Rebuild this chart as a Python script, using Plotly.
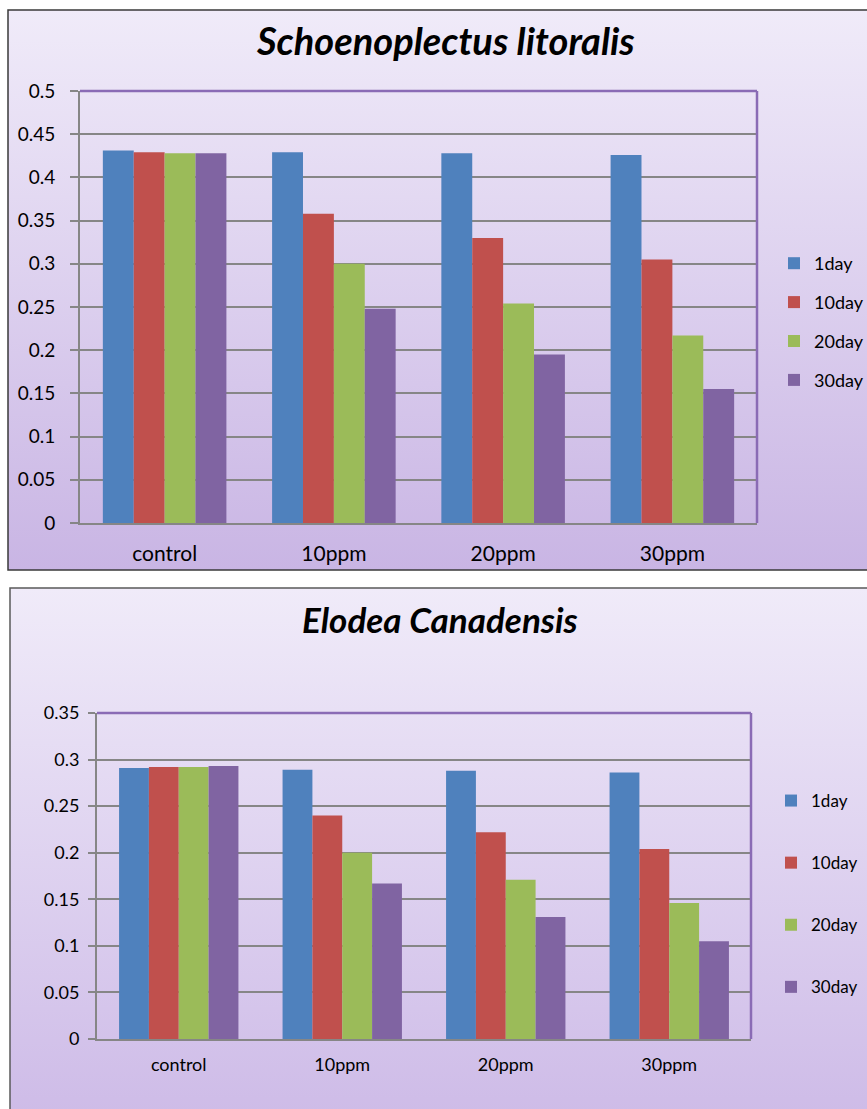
import base64
import plotly.graph_objects as go

categories = ["control", "10ppm", "20ppm", "30ppm"]
series_names = ["1day", "10day", "20day", "30day"]

schoeno_1day = [0.431, 0.429, 0.428, 0.426]
schoeno_10day = [0.429, 0.358, 0.330, 0.305]
schoeno_20day = [0.428, 0.300, 0.254, 0.217]
schoeno_30day = [0.428, 0.248, 0.195, 0.155]

elodea_1day = [0.291, 0.289, 0.288, 0.286]
elodea_10day = [0.292, 0.240, 0.222, 0.204]
elodea_20day = [0.292, 0.200, 0.171, 0.146]
elodea_30day = [0.293, 0.167, 0.131, 0.105]

title1 = "Schoenoplectus litoralis"
title2 = "Elodea Canadensis"

colors = ["#4F81BD", "#C0504D", "#9BBB59", "#8064A2"]

W, H = 867, 1109
FONT = "Lato"


def px_x(v):
    return v / W


def px_y(v):
    return 1 - v / H


def gradient_uri(top, bottom):
    svg = (
        '<svg xmlns="http://www.w3.org/2000/svg" width="100" height="100" preserveAspectRatio="none">'
        '<defs><linearGradient id="g" x1="0" y1="0" x2="0" y2="1">'
        f'<stop offset="0" stop-color="{top}"/><stop offset="1" stop-color="{bottom}"/>'
        '</linearGradient></defs><rect width="100" height="100" fill="url(#g)"/></svg>'
    )
    return "data:image/svg+xml;base64," + base64.b64encode(svg.encode()).decode()


fig = go.Figure()

s1 = [schoeno_1day, schoeno_10day, schoeno_20day, schoeno_30day]
s2 = [elodea_1day, elodea_10day, elodea_20day, elodea_30day]

for i, (name, vals) in enumerate(zip(series_names, s1)):
    fig.add_trace(go.Bar(x=categories, y=vals, name=name, marker=dict(color=colors[i], line=dict(width=0)),
                         xaxis="x", yaxis="y", legend="legend", legendgroup=f"a{i}"))
for i, (name, vals) in enumerate(zip(series_names, s2)):
    fig.add_trace(go.Bar(x=categories, y=vals, name=name, marker=dict(color=colors[i], line=dict(width=0)),
                         xaxis="x2", yaxis="y2", legend="legend2", legendgroup=f"b{i}"))

grid = "#868686"
axis_common = dict(showline=True, linecolor=grid, linewidth=2, fixedrange=True, automargin=False)

fig.update_layout(
    width=W, height=H, autosize=False,
    margin=dict(l=0, r=0, t=0, b=0, autoexpand=False),
    paper_bgcolor="white",
    plot_bgcolor="rgba(0,0,0,0)",
    barmode="group", bargap=0.27, bargroupgap=0,
    font=dict(family=FONT, color="#000000"),
    xaxis=dict(domain=[px_x(80), px_x(757)], anchor="y", showgrid=False, ticks="",
               tickfont=dict(size=21), ticklabelstandoff=11, **axis_common),
    yaxis=dict(domain=[px_y(523), px_y(91)], anchor="x", range=[0, 0.5], dtick=0.05,
               showgrid=True, gridcolor=grid, gridwidth=2, ticks="outside", ticklen=8, tickcolor=grid,
               tickwidth=2, tickfont=dict(size=19), ticklabelstandoff=11, zeroline=False, **axis_common),
    xaxis2=dict(domain=[px_x(97), px_x(751)], anchor="y2", showgrid=False, ticks="",
                tickfont=dict(size=18), ticklabelstandoff=8, **axis_common),
    yaxis2=dict(domain=[px_y(1039), px_y(713)], anchor="x2", range=[0, 0.35], dtick=0.05,
                showgrid=True, gridcolor=grid, gridwidth=2, ticks="outside", ticklen=7, tickcolor=grid,
                tickwidth=2, tickfont=dict(size=18), ticklabelstandoff=5, zeroline=False, **axis_common),
    legend=dict(x=px_x(774), y=px_y(322), xanchor="left", yanchor="middle", bgcolor="rgba(0,0,0,0)",
                font=dict(size=18), tracegroupgap=12.5, itemwidth=30, traceorder="grouped"),
    legend2=dict(x=px_x(771), y=px_y(894), xanchor="left", yanchor="middle", bgcolor="rgba(0,0,0,0)",
                 font=dict(size=17), tracegroupgap=37, itemwidth=30, traceorder="grouped"),
    showlegend=True,
)

bg = gradient_uri("#F0EBF9", "#C9B5E4")
fig.add_layout_image(dict(source=bg, xref="paper", yref="paper", x=px_x(8), y=px_y(10),
                          sizex=1.05 - px_x(8), sizey=px_y(10) - px_y(570), sizing="stretch",
                          xanchor="left", yanchor="top", layer="below"))
bg2 = gradient_uri("#F0EBF9", "#CDBAE7")
fig.add_layout_image(dict(source=bg2, xref="paper", yref="paper", x=px_x(10), y=px_y(588),
                          sizex=1.05 - px_x(10), sizey=px_y(588) + 0.02, sizing="stretch",
                          xanchor="left", yanchor="top", layer="below"))

# chart frames
fig.add_shape(type="rect", xref="paper", yref="paper", x0=px_x(8), x1=1.05, y0=px_y(570), y1=px_y(10),
              line=dict(color="#3A3A3A", width=1.5), fillcolor="rgba(0,0,0,0)", layer="above")
fig.add_shape(type="rect", xref="paper", yref="paper", x0=px_x(10), x1=1.05, y0=-0.05, y1=px_y(588),
              line=dict(color="#5A5A5A", width=1.5), fillcolor="rgba(0,0,0,0)", layer="above")

# purple top/right plot borders
purple = "#8A6BB5"
for xr, yr in (("x", "y"), ("x2", "y2")):
    fig.add_shape(type="line", xref=f"{xr} domain", yref=f"{yr} domain", x0=0, x1=1, y0=1, y1=1,
                  line=dict(color=purple, width=2.5))
    fig.add_shape(type="line", xref=f"{xr} domain", yref=f"{yr} domain", x0=1, x1=1, y0=0, y1=1,
                  line=dict(color=purple, width=2.5))

fig.add_annotation(text=f"<b><i>{title1}</i></b>", xref="paper", yref="paper", x=px_x(445), y=px_y(40),
                   xanchor="center", yanchor="middle", showarrow=False, font=dict(size=38, family=FONT))
fig.add_annotation(text=f"<b><i>{title2}</i></b>", xref="paper", yref="paper", x=px_x(440), y=px_y(619),
                   xanchor="center", yanchor="middle", showarrow=False, font=dict(size=35, family=FONT))

fig.write_html("out.html")
